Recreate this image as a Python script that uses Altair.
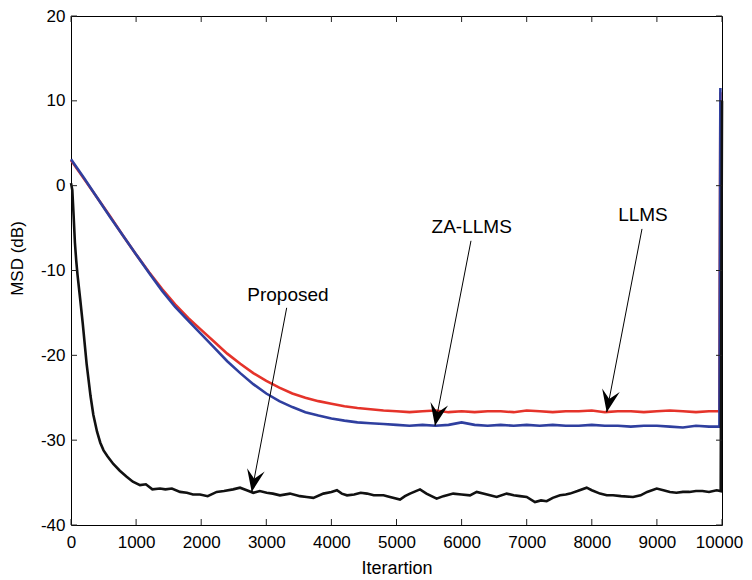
import math
import altair as alt
import pandas as pd

# ---------------- data ----------------
prop_x = [0, 20, 40, 60, 80, 100, 140, 180, 240, 300, 343, 400, 450, 500, 560, 650, 750, 855, 950,
          1060, 1150, 1250, 1367, 1450, 1550, 1675, 1780, 1874, 1982, 2100, 2238, 2350, 2490, 2596,
          2700, 2800, 2900, 3006, 3100, 3210, 3364, 3518, 3620, 3723, 3877, 4000, 4085, 4160, 4240,
          4350, 4450, 4547, 4650, 4800, 4900, 5054, 5130, 5207, 5361, 5460, 5617, 5720, 5870, 6000,
          6129, 6232, 6330, 6436, 6539, 6692, 6800, 6897, 7000, 7127, 7220, 7307, 7400, 7512, 7600,
          7665, 7780, 7921, 8000, 8126, 8230, 8326, 8450, 8633, 8750, 8850, 8997, 9100, 9200, 9300,
          9400, 9500, 9600, 9700, 9800, 9918, 9980, 10000]
prop_y = [0.3, -0.5, -3.5, -6.7, -8.8, -10.5, -13.3, -16.2, -21.0, -24.8, -27.0, -29.0, -30.3, -31.2,
          -31.9, -32.8, -33.6, -34.3, -34.9, -35.3, -35.2, -35.8, -35.7, -35.8, -35.7, -36.1, -36.2,
          -36.4, -36.4, -36.6, -36.1, -36.0, -35.8, -35.6, -35.9, -36.2, -36.0, -36.2, -36.3, -36.5,
          -36.3, -36.6, -36.7, -36.8, -36.3, -36.1, -35.9, -36.3, -36.5, -36.4, -36.2, -36.3, -36.5,
          -36.5, -36.7, -37.0, -36.6, -36.3, -35.8, -36.3, -36.9, -36.6, -36.3, -36.4, -36.5, -36.1,
          -36.3, -36.5, -36.7, -36.3, -36.5, -36.6, -36.7, -37.3, -37.1, -37.2, -36.8, -36.5, -36.4,
          -36.3, -36.0, -35.6, -35.9, -36.3, -36.5, -36.5, -36.6, -36.7, -36.5, -36.1, -35.7, -35.9,
          -36.1, -36.2, -36.1, -36.1, -36.0, -36.0, -36.1, -35.9, -36.0, 10.0]

llms_x = [0, 200, 400, 600, 800, 1000, 1200, 1400, 1600, 1800, 2000, 2200, 2400, 2600, 2800, 3000,
          3200, 3400, 3600, 3800, 4000, 4200, 4400, 4600, 4800, 5000, 5200, 5400, 5600, 5800, 6000,
          6200, 6400, 6600, 6800, 7000, 7200, 7400, 7600, 7800, 8000, 8200, 8400, 8600, 8800, 9000,
          9200, 9400, 9600, 9800, 9960, 9975]
llms_y = [3.0, 0.8, -1.4, -3.6, -5.9, -8.1, -10.2, -12.2, -14.0, -15.6, -17.0, -18.4, -19.8, -21.0,
          -22.1, -23.0, -23.8, -24.5, -25.0, -25.4, -25.7, -26.0, -26.2, -26.35, -26.5, -26.6, -26.7,
          -26.6, -26.5, -26.7, -26.6, -26.7, -26.6, -26.6, -26.7, -26.5, -26.6, -26.7, -26.6, -26.6,
          -26.5, -26.7, -26.6, -26.6, -26.7, -26.6, -26.5, -26.6, -26.7, -26.6, -26.6, 11.0]

zallms_x = llms_x
zallms_y = [3.1, 0.9, -1.4, -3.7, -5.9, -8.1, -10.3, -12.4, -14.3, -15.9, -17.5, -19.1, -20.7, -22.1,
            -23.4, -24.5, -25.4, -26.1, -26.7, -27.1, -27.45, -27.7, -27.9, -28.0, -28.1, -28.2, -28.3,
            -28.2, -28.3, -28.2, -27.9, -28.2, -28.3, -28.2, -28.3, -28.2, -28.3, -28.2, -28.3, -28.3,
            -28.2, -28.3, -28.3, -28.4, -28.3, -28.3, -28.4, -28.5, -28.3, -28.4, -28.4, 11.5]

series_names = ["LLMS", "ZA-LLMS", "Proposed"]
series_colors = ["#e5332a", "#2f3f9f", "#111111"]

x_ticks = [0, 1000, 2000, 3000, 4000, 5000, 6000, 7000, 8000, 9000, 10000]
y_ticks = [-40, -30, -20, -10, 0, 10, 20]

ann_text = ["Proposed", "ZA-LLMS", "LLMS"]
ann_tx = [3333, 6155, 8786]
ann_ty = [-12.9, -4.9, -3.5]
arr_x1 = [3313, 6144, 8771]
arr_y1 = [-14.4, -6.5, -5.1]
arr_x2 = [2776, 5591, 8229]
arr_y2 = [-36.1, -28.3, -26.7]

# ---------------- layout ----------------
W, H = 651, 509
XD = [0, 10000]
YD = [-40, 20]
FONT = "Liberation Sans"

rows = []
for name, xs, ys in [("LLMS", llms_x, llms_y), ("ZA-LLMS", zallms_x, zallms_y), ("Proposed", prop_x, prop_y)]:
    for i, (a, b) in enumerate(zip(xs, ys)):
        rows.append({"series": name, "it": a, "msd": b, "ord": i})
df = pd.DataFrame(rows)

angles = []
for a1, b1, a2, b2 in zip(arr_x1, arr_y1, arr_x2, arr_y2):
    dx = (a2 - a1) * W / (XD[1] - XD[0])
    dy = -(b2 - b1) * H / (YD[1] - YD[0])
    ang = math.degrees(math.atan2(-dx, dy))
    if ang < 0:
        ang += 360
    angles.append(ang)

ann = pd.DataFrame({"text": ann_text, "tx": ann_tx, "ty": ann_ty,
                    "x1": arr_x1, "y1": arr_y1, "x2": arr_x2, "y2": arr_y2, "ang": angles})

xs = alt.Scale(domain=XD, nice=False, zero=False)
ys = alt.Scale(domain=YD, nice=False, zero=False)

last_label_shift = {"condition": {"test": "datum.value >= %d" % XD[1], "value": -3}, "value": 0}
x_axis = alt.Axis(values=x_ticks, title="Iterartion", labelExpr="'' + datum.value",
                  titleFontSize=18, labelOffset=last_label_shift)
y_axis = alt.Axis(values=y_ticks, title="MSD (dB)", labelExpr="'' + datum.value",
                  titleFontSize=17)

lines = alt.Chart(df).mark_line(strokeWidth=2.6).encode(
    x=alt.X("it:Q", scale=xs, axis=x_axis),
    y=alt.Y("msd:Q", scale=ys, axis=y_axis),
    color=alt.Color("series:N", scale=alt.Scale(domain=series_names, range=series_colors), legend=None),
    order="ord:Q",
)

xt = pd.DataFrame({"v": x_ticks})
yt = pd.DataFrame({"v": y_ticks})
tick_style = dict(color="#222222", strokeWidth=1)
tb = alt.Chart(xt).mark_rule(y2Offset=-6, **tick_style).encode(
    x=alt.X("v:Q", scale=xs, axis=x_axis), y=alt.datum(YD[0]), y2=alt.datum(YD[0]))
tt = alt.Chart(xt).mark_rule(y2Offset=6, **tick_style).encode(
    x=alt.X("v:Q", scale=xs, axis=x_axis), y=alt.datum(YD[1]), y2=alt.datum(YD[1]))
tl = alt.Chart(yt).mark_rule(x2Offset=6, **tick_style).encode(
    y=alt.Y("v:Q", scale=ys, axis=y_axis), x=alt.datum(XD[0]), x2=alt.datum(XD[0]))
tr = alt.Chart(yt).mark_rule(x2Offset=-6, **tick_style).encode(
    y=alt.Y("v:Q", scale=ys, axis=y_axis), x=alt.datum(XD[1]), x2=alt.datum(XD[1]))

texts = alt.Chart(ann).mark_text(font=FONT, fontSize=19, color="black", align="center",
                                 baseline="middle").encode(
    x=alt.X("tx:Q", scale=xs, axis=x_axis), y=alt.Y("ty:Q", scale=ys, axis=y_axis), text="text:N")
arrows = alt.Chart(ann).mark_rule(color="black", strokeWidth=1).encode(
    x=alt.X("x1:Q", scale=xs, axis=x_axis), y=alt.Y("y1:Q", scale=ys, axis=y_axis), x2="x2:Q", y2="y2:Q")
head_path = "M0,0 L-0.4,-1 L0,-0.6 L0.4,-1 Z"
heads = alt.Chart(ann).mark_point(shape=head_path, filled=True, size=2000, color="black",
                                  opacity=1, strokeWidth=0).encode(
    x=alt.X("x2:Q", scale=xs, axis=x_axis), y=alt.Y("y2:Q", scale=ys, axis=y_axis),
    angle=alt.Angle("ang:Q", scale=None))

chart = alt.layer(lines, tb, tt, tl, tr, arrows, heads, texts).properties(
    width=W, height=H,
    autosize=alt.AutoSizeParams(type="none"),
    padding={"left": 63, "top": 8, "right": 22, "bottom": 54},
    background="white",
).configure_view(
    stroke="black", strokeWidth=1
).configure_axis(
    grid=False, ticks=False, domain=False, labelFlush=False,
    labelFont=FONT, labelFontSize=17, labelColor="black",
    titleFont=FONT, titleFontWeight="normal", titleColor="black",
).configure_axisX(
    labelPadding=9, titleFontSize=18, titleBaseline="alphabetic", titleY=48,
).configure_axisY(
    labelPadding=6, titleFontSize=17, titleBaseline="middle", titleX=-54, titleY=242,
)

chart.save("out.html", embed_options={"renderer": "svg", "actions": False})
